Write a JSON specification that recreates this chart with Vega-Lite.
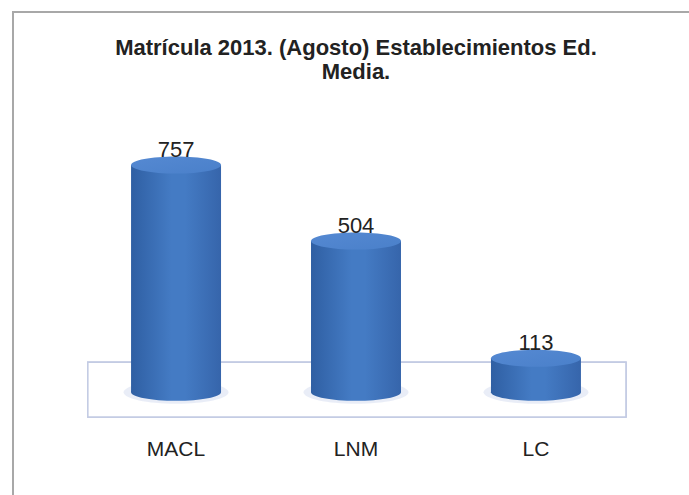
{
  "$schema": "https://vega.github.io/schema/vega-lite/v6.json",
  "width": 686,
  "height": 490,
  "autosize": {"type": "none"},
  "padding": {"left": 13, "top": 12, "right": 0, "bottom": 0},
  "background": "white",
  "config": {
    "view": {"stroke": "#a8a8a8", "strokeWidth": 2},
    "font": "Liberation Sans"
  },
  "title": {
    "text": ["Matrícula 2013.  (Agosto) Establecimientos Ed.", "Media."],
    "font": "Liberation Sans",
    "fontSize": 22,
    "fontWeight": "bold",
    "color": "#222222",
    "anchor": "middle",
    "frame": "group",
    "baseline": "top",
    "offset": -72,
    "lineHeight": 24
  },
  "data": {
    "values": [
      {"establecimiento": "MACL", "matricula": 757},
      {"establecimiento": "LNM", "matricula": 504},
      {"establecimiento": "LC", "matricula": 113}
    ]
  },
  "encoding": {
    "x": {
      "field": "establecimiento",
      "type": "nominal",
      "sort": null,
      "scale": {"domain": ["MACL", "LNM", "LC"], "paddingInner": 0.5, "paddingOuter": 0.656},
      "axis": {
        "title": null,
        "domain": false,
        "ticks": false,
        "labelAngle": 0,
        "labelFont": "Liberation Sans",
        "labelFontSize": 21,
        "labelColor": "#222222",
        "labelBaseline": "top",
        "labelPadding": 2,
        "offset": -66
      }
    }
  },
  "layer": [
    {
      "mark": {"type": "rect", "fill": "white", "stroke": "#c3cbe3", "strokeWidth": 1.5},
      "encoding": {
        "x": {"datum": "MACL", "type": "nominal", "bandPosition": -0.48},
        "x2": {"datum": "LC", "bandPosition": 1.5},
        "y": {"datum": 100, "type": "quantitative", "scale": {"domain": [-366, 1267], "nice": false, "zero": false}, "axis": null},
        "y2": {"datum": -83}
      }
    },
    {
      "mark": {"type": "point", "shape": "M -1 0 C -1 -0.12 -0.552 -0.22 0 -0.22 C 0.552 -0.22 1 -0.12 1 0 C 1 0.12 0.552 0.22 0 0.22 C -0.552 0.22 -1 0.12 -1 0 Z", "filled": true, "size": 11000, "fill": "#dfe6f3", "strokeWidth": 0, "opacity": 0.7},
      "encoding": {"y": {"datum": 0, "type": "quantitative"}}
    },
    {
      "mark": {"type": "point", "shape": "M -1 0 C -1 -0.105 -0.552 -0.19 0 -0.19 C 0.552 -0.19 1 -0.105 1 0 C 1 0.105 0.552 0.19 0 0.19 C -0.552 0.19 -1 0.105 -1 0 Z", "filled": true, "size": 8100, "strokeWidth": 0, "opacity": 1,
        "fill": {"gradient": "linear", "x1": 0, "x2": 1, "y1": 0, "y2": 0, "stops": [{"offset": 0, "color": "#2f5fa3"}, {"offset": 0.45, "color": "#447bc4"}, {"offset": 0.6, "color": "#447bc4"}, {"offset": 1, "color": "#3665ab"}]}},
      "encoding": {"y": {"datum": 0, "type": "quantitative"}}
    },
    {
      "mark": {"type": "bar",
        "fill": {"gradient": "linear", "x1": 0, "x2": 1, "y1": 0, "y2": 0, "stops": [{"offset": 0, "color": "#2f5fa3"}, {"offset": 0.45, "color": "#447bc4"}, {"offset": 0.6, "color": "#447bc4"}, {"offset": 1, "color": "#3665ab"}]}},
      "encoding": {
        "y": {"field": "matricula", "type": "quantitative"},
        "y2": {"datum": 0}
      }
    },
    {
      "mark": {"type": "point", "shape": "M -1 0 C -1 -0.105 -0.552 -0.19 0 -0.19 C 0.552 -0.19 1 -0.105 1 0 C 1 0.105 0.552 0.19 0 0.19 C -0.552 0.19 -1 0.105 -1 0 Z", "filled": true, "size": 8100, "strokeWidth": 0, "opacity": 1,
        "fill": {"gradient": "linear", "x1": 0, "x2": 1, "y1": 0, "y2": 1, "stops": [{"offset": 0, "color": "#5589d2"}, {"offset": 1, "color": "#4a80ca"}]}},
      "encoding": {"y": {"field": "matricula", "type": "quantitative"}}
    },
    {
      "mark": {"type": "text", "font": "Liberation Sans", "fontSize": 22, "color": "#222222", "baseline": "alphabetic", "dy": -8},
      "encoding": {
        "y": {"field": "matricula", "type": "quantitative"},
        "text": {"field": "matricula", "type": "quantitative"}
      }
    }
  ]
}
